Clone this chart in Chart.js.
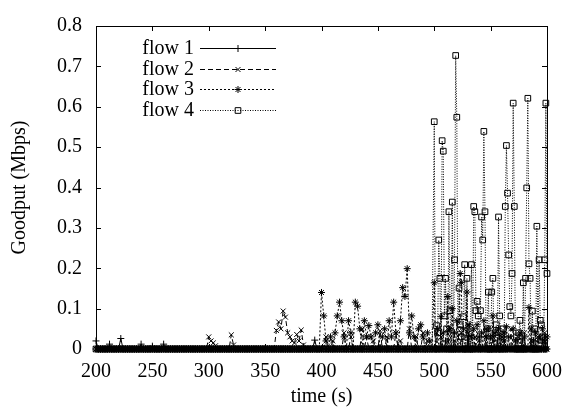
<!DOCTYPE html>
<html>
<head>
<meta charset="utf-8">
<script src="https://cdn.jsdelivr.net/npm/chart.js@4.4.1/dist/chart.umd.min.js"></script>
<style>
  html, body { margin: 0; padding: 0; background: #fff; }
  canvas { display: block; }
</style>
</head>
<body>
<canvas id="chart" width="573" height="414"></canvas>
<script>
// sample times (s): every 2 s from 200 to 498, then every 1 s from 500 to 600
const times = []
for (let t = 200; t < 500; t += 2) times.push(t)
for (let t = 500; t <= 600; t += 1) times.push(t)

// goodput (Mbps); rows of 20 s up to 500, rows of 10 s after that
const flow1 = [
  0.02, 0, 0, 0, 0, 0, 0.012, 0, 0, 0,        // 200
  0, 0.026, 0, 0, 0, 0, 0, 0, 0, 0,           // 220
  0.012, 0, 0, 0, 0, 0.007, 0, 0, 0, 0,       // 240
  0.012, 0, 0, 0, 0, 0, 0, 0, 0, 0,           // 260
  0, 0, 0, 0, 0, 0, 0, 0, 0, 0,               // 280
  0, 0, 0, 0, 0, 0, 0, 0, 0, 0,               // 300
  0, 0, 0, 0, 0, 0, 0, 0, 0, 0,               // 320
  0, 0, 0, 0, 0, 0, 0, 0, 0, 0,               // 340
  0, 0, 0, 0, 0, 0, 0, 0, 0, 0,               // 360
  0, 0, 0, 0, 0, 0, 0, 0.022, 0, 0,           // 380
  0, 0, 0, 0, 0, 0, 0, 0, 0, 0,               // 400
  0, 0, 0, 0, 0, 0, 0, 0, 0, 0,               // 420
  0, 0, 0, 0, 0, 0, 0, 0, 0, 0,               // 440
  0, 0, 0, 0, 0, 0, 0, 0, 0, 0,               // 460
  0, 0, 0, 0, 0, 0, 0, 0, 0, 0,               // 480
  0, 0, 0, 0, 0, 0, 0, 0, 0, 0,               // 500
  0.02, 0, 0, 0, 0, 0, 0, 0, 0, 0,            // 510
  0, 0, 0, 0, 0, 0, 0, 0, 0, 0,               // 520
  0.03, 0, 0, 0, 0, 0, 0, 0, 0, 0,            // 530
  0, 0, 0, 0, 0, 0, 0, 0, 0, 0,               // 540
  0, 0, 0, 0, 0, 0, 0.02, 0, 0, 0,            // 550
  0, 0, 0, 0, 0, 0, 0, 0, 0, 0,               // 560
  0, 0, 0, 0, 0, 0, 0, 0, 0.025, 0,           // 570
  0, 0, 0, 0, 0, 0, 0, 0, 0, 0,               // 580
  0, 0, 0, 0, 0, 0, 0.02, 0, 0, 0,            // 590
  0                                           // 600
]

const flow2 = [
  0, 0, 0, 0, 0, 0, 0, 0, 0, 0,               // 200
  0, 0, 0, 0, 0, 0, 0, 0, 0, 0,               // 220
  0, 0, 0, 0, 0, 0, 0, 0, 0, 0,               // 240
  0, 0, 0, 0, 0, 0, 0, 0, 0, 0,               // 260
  0, 0, 0, 0, 0, 0, 0, 0, 0, 0,               // 280
  0.03, 0.02, 0.015, 0.008, 0, 0, 0, 0, 0, 0, // 300
  0.035, 0.01, 0, 0, 0, 0, 0, 0, 0, 0,        // 320
  0, 0, 0, 0, 0, 0, 0, 0, 0, 0,               // 340
  0.046, 0.067, 0.05, 0.094, 0.079, 0.04, 0.03, 0.02, 0.015, 0.036, // 360
  0.02, 0.047, 0.01, 0, 0, 0, 0, 0, 0, 0,     // 380
  0, 0, 0.03, 0, 0, 0.02, 0, 0, 0, 0,         // 400
  0.04, 0, 0, 0.03, 0, 0, 0, 0, 0.05, 0,      // 420
  0.03, 0, 0, 0.02, 0, 0, 0.045, 0, 0, 0.03,  // 440
  0, 0, 0, 0.04, 0, 0.02, 0, 0, 0, 0.05,      // 460
  0, 0, 0.03, 0, 0, 0.04, 0, 0.02, 0, 0,      // 480
  0, 0, 0.04, 0, 0, 0, 0.03, 0, 0, 0,         // 500
  0, 0, 0.05, 0, 0, 0, 0, 0, 0.02, 0,         // 510
  0, 0, 0, 0, 0.04, 0, 0, 0, 0, 0,            // 520
  0.06, 0, 0, 0, 0, 0, 0.03, 0, 0, 0,         // 530
  0.02, 0, 0, 0, 0, 0, 0.05, 0, 0, 0,         // 540
  0, 0, 0.03, 0, 0, 0, 0, 0, 0.04, 0,         // 550
  0, 0, 0.02, 0, 0, 0, 0, 0, 0.05, 0,         // 560
  0, 0, 0, 0, 0.03, 0, 0, 0, 0, 0,            // 570
  0.04, 0, 0, 0, 0, 0, 0.02, 0, 0, 0,         // 580
  0, 0, 0.03, 0, 0, 0, 0, 0, 0.04, 0,         // 590
  0                                           // 600
]

const flow3 = [
  0, 0, 0, 0, 0, 0, 0, 0, 0, 0,               // 200
  0, 0, 0, 0, 0, 0, 0, 0, 0, 0,               // 220
  0, 0, 0, 0, 0, 0, 0, 0, 0, 0,               // 240
  0, 0, 0, 0, 0, 0, 0, 0, 0, 0,               // 260
  0, 0, 0, 0, 0, 0, 0, 0, 0, 0,               // 280
  0, 0, 0, 0, 0, 0, 0, 0, 0, 0,               // 300
  0, 0, 0, 0, 0, 0, 0, 0, 0, 0,               // 320
  0, 0, 0, 0, 0, 0, 0, 0, 0, 0,               // 340
  0, 0, 0, 0, 0, 0, 0, 0, 0, 0,               // 360
  0, 0, 0, 0, 0, 0, 0, 0, 0, 0,               // 380
  0.14, 0.082, 0.02, 0, 0.03, 0, 0.04, 0.082, 0.116, 0.07,     // 400
  0.03, 0, 0.07, 0.04, 0, 0.116, 0.106, 0.05, 0, 0.07,         // 420
  0.03, 0.058, 0.03, 0, 0.04, 0.06, 0, 0.03, 0.05, 0,          // 440
  0.07, 0.03, 0.116, 0.04, 0, 0.07, 0.152, 0.13, 0.199, 0.04,  // 460
  0.082, 0.03, 0, 0.05, 0.06, 0.03, 0, 0.04, 0.02, 0,          // 480
  0.164, 0, 0, 0.05, 0, 0, 0.08, 0, 0.04, 0,                   // 500
  0, 0, 0.13, 0, 0.05, 0, 0.1, 0, 0.04, 0,                     // 510
  0.07, 0, 0, 0.187, 0.165, 0, 0.05, 0, 0, 0.141,              // 520
  0, 0.06, 0, 0.03, 0, 0.05, 0, 0, 0.06, 0,                    // 530
  0.03, 0, 0.04, 0, 0.07, 0, 0.03, 0, 0.05, 0,                 // 540
  0.03, 0, 0.082, 0, 0.04, 0, 0, 0.05, 0, 0,                   // 550
  0.03, 0, 0.04, 0, 0.055, 0, 0.03, 0, 0, 0,                   // 560
  0.05, 0, 0.02, 0, 0, 0, 0.04, 0, 0, 0,                       // 570
  0.03, 0, 0, 0, 0.103, 0, 0.05, 0, 0.02, 0,                   // 580
  0.04, 0, 0, 0, 0.03, 0, 0.05, 0, 0.02, 0,                    // 590
  0.03                                                         // 600
]

const flow4 = [
  0, 0, 0, 0, 0, 0, 0, 0, 0, 0,               // 200
  0, 0, 0, 0, 0, 0, 0, 0, 0, 0,               // 220
  0, 0, 0, 0, 0, 0, 0, 0, 0, 0,               // 240
  0, 0, 0, 0, 0, 0, 0, 0, 0, 0,               // 260
  0, 0, 0, 0, 0, 0, 0, 0, 0, 0,               // 280
  0, 0, 0, 0, 0, 0, 0, 0, 0, 0,               // 300
  0, 0, 0, 0, 0, 0, 0, 0, 0, 0,               // 320
  0, 0, 0, 0, 0, 0, 0, 0, 0, 0,               // 340
  0, 0, 0, 0, 0, 0, 0, 0, 0, 0,               // 360
  0, 0, 0, 0, 0, 0, 0, 0, 0, 0,               // 380
  0, 0, 0, 0, 0, 0, 0, 0, 0, 0,               // 400
  0, 0, 0, 0, 0, 0, 0, 0, 0, 0,               // 420
  0, 0, 0, 0, 0, 0, 0, 0, 0, 0,               // 440
  0, 0, 0, 0, 0, 0, 0, 0, 0, 0,               // 460
  0, 0, 0, 0, 0, 0, 0, 0, 0, 0,               // 480
  0.563, 0, 0.058, 0.04, 0.27, 0.175, 0, 0.516, 0.49, 0.082,        // 500
  0.175, 0.05, 0, 0.34, 0.095, 0, 0.364, 0, 0.221, 0.727,           // 510
  0.574, 0, 0.151, 0.06, 0.03, 0, 0.08, 0.209, 0, 0.175,            // 520
  0, 0.04, 0, 0.209, 0, 0.353, 0.34, 0.095, 0.118, 0.082,           // 530
  0, 0.095, 0.327, 0.27, 0.539, 0.34, 0, 0.05, 0.141, 0,            // 540
  0, 0.141, 0.175, 0, 0.04, 0.06, 0, 0.327, 0.082, 0,               // 550
  0.03, 0.05, 0, 0.353, 0.504, 0.386, 0.233, 0.105, 0.082, 0.187,   // 560
  0.609, 0.353, 0, 0.03, 0, 0.04, 0.071, 0, 0, 0.164,               // 570
  0, 0.175, 0.399, 0.621, 0.211, 0.175, 0, 0.094, 0, 0.05,          // 580
  0, 0.304, 0, 0.221, 0.071, 0.06, 0.03, 0, 0.221, 0.609,           // 590
  0.187                                                             // 600
]

const flowNames = ['flow 1', 'flow 2', 'flow 3', 'flow 4']
const flowValues = [flow1, flow2, flow3, flow4]
const flowPoints = ['cross', 'crossRot', 'star', 'rect']
const flowDash = [[], [5, 3], [2, 2], [1, 1.5]]

const FONT = '"Liberation Serif", "DejaVu Serif", serif'

const datasets = flowValues.map((vals, i) => ({
  label: flowNames[i],
  data: times.map((t, j) => ({ x: t, y: vals[j] })),
  showLine: true,
  borderColor: '#000',
  backgroundColor: 'rgba(0,0,0,0)',
  borderWidth: 1,
  borderDash: flowDash[i],
  pointStyle: flowPoints[i],
  pointRadius: flowPoints[i] === 'rect' ? 4 : 3.5,
  pointBorderColor: '#000',
  pointBackgroundColor: 'rgba(0,0,0,0)',
  pointBorderWidth: 1,
  tension: 0,
  clip: false,
}))

// box, inward ticks, key and axis titles the gnuplot way
const gnuFrame = {
  id: 'gnuFrame',
  afterDraw(chart) {
    const { ctx, chartArea: a, scales: { x, y } } = chart
    const tick = 5
    ctx.save()
    ctx.strokeStyle = '#000'
    ctx.lineWidth = 1
    ctx.setLineDash([])
    ctx.strokeRect(a.left + 0.5, a.top + 0.5, a.right - a.left, a.bottom - a.top)
    ctx.beginPath()
    x.ticks.forEach(tk => {
      const px = Math.round(x.getPixelForValue(tk.value)) + 0.5
      ctx.moveTo(px, a.bottom); ctx.lineTo(px, a.bottom - tick)
      ctx.moveTo(px, a.top); ctx.lineTo(px, a.top + tick)
    })
    y.ticks.forEach(tk => {
      const py = Math.round(y.getPixelForValue(tk.value)) + 0.5
      ctx.moveTo(a.left, py); ctx.lineTo(a.left + tick, py)
      ctx.moveTo(a.right, py); ctx.lineTo(a.right - tick, py)
    })
    ctx.stroke()

    // key
    ctx.font = '20px ' + FONT
    ctx.fillStyle = '#000'
    ctx.textAlign = 'right'
    ctx.textBaseline = 'alphabetic'
    chart.data.datasets.forEach((ds, i) => {
      const base = a.top + 28 + 20.7 * i
      const ly = Math.round(base - 6) + 0.5
      ctx.fillText(ds.label, a.left + 98, base)
      ctx.setLineDash(ds.borderDash)
      ctx.beginPath()
      ctx.moveTo(a.left + 104, ly)
      ctx.lineTo(a.left + 180, ly)
      ctx.stroke()
      ctx.setLineDash([])
      ctx.fillStyle = 'rgba(0,0,0,0)'
      Chart.helpers.drawPoint(ctx, {
        pointStyle: ds.pointStyle, radius: ds.pointRadius, rotation: 0, borderWidth: 1
      }, a.left + 142, ly)
      ctx.fillStyle = '#000'
    })

    // axis titles
    ctx.textAlign = 'center'
    ctx.textBaseline = 'middle'
    ctx.fillText('time (s)', (a.left + a.right) / 2, 397)
    ctx.translate(20, (a.top + a.bottom) / 2)
    ctx.rotate(-Math.PI / 2)
    ctx.fillText('Goodput (Mbps)', 0, 0)
    ctx.restore()
  }
}

new Chart(document.getElementById('chart'), {
  type: 'scatter',
  data: { datasets },
  plugins: [gnuFrame],
  options: {
    responsive: false,
    animation: false,
    devicePixelRatio: 1,
    layout: { padding: { top: 14, right: 22, left: 0, bottom: 0 } },
    plugins: { legend: { display: false }, tooltip: { enabled: false } },
    scales: {
      x: {
        type: 'linear',
        min: 200,
        max: 600,
        grid: { display: false, drawTicks: false },
        border: { display: false },
        ticks: { stepSize: 50, color: '#000', font: { family: FONT, size: 20 }, padding: 11, maxRotation: 0 },
        afterFit(s) { s.height = 65 },
      },
      y: {
        min: 0,
        max: 0.8,
        grid: { display: false, drawTicks: false },
        border: { display: false },
        ticks: {
          stepSize: 0.1, color: '#000', font: { family: FONT, size: 20 }, padding: 14,
          callback: v => String(Math.round(v * 10) / 10),
        },
        afterFit(s) { s.width = 96 },
      },
    },
  },
})
</script>
</body>
</html>
